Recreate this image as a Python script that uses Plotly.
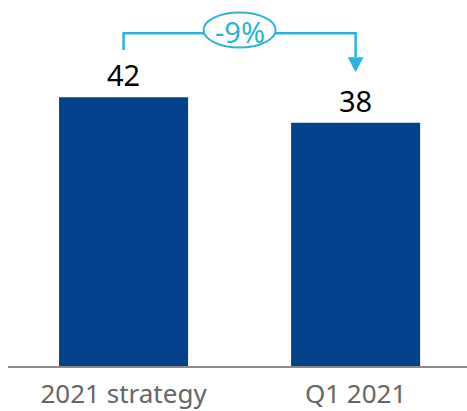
import plotly.graph_objects as go

categories = ["2021 strategy", "Q1 2021"]
values = [42, 38]
change_label = "-9%"

bar_color = "#03428A"
accent = "#2DB3D9"
font_family = "Noto Sans, Open Sans, sans-serif"

fig = go.Figure()
fig.add_trace(go.Bar(
    x=categories, y=values,
    marker=dict(color=bar_color, line=dict(width=0)),
    text=[str(v) for v in values],
    textposition="outside",
    textfont=dict(size=29, color="#000000", family=font_family),
    cliponaxis=False,
    width=0.556,
))

top_y = 52.0
left_end = values[0] + 7.4
tip_y = values[1] + 7.9
arrow_len = 2.35

shapes = [
    dict(type="path", xref="x", yref="y",
         path=f"M 0,{left_end} L 0,{top_y} L 1,{top_y} L 1,{tip_y + arrow_len}",
         line=dict(color=accent, width=2.5), layer="above"),
    dict(type="path", xref="x", yref="y",
         path=f"M 0.966,{tip_y + arrow_len} L 1.034,{tip_y + arrow_len} L 1,{tip_y} Z",
         fillcolor=accent, line=dict(color=accent, width=0), layer="above"),
    dict(type="circle", xref="x", yref="y", xsizemode="pixel", ysizemode="pixel",
         xanchor=0.5, yanchor=top_y + 0.5, x0=-36, x1=36, y0=-17.5, y1=17.5,
         fillcolor="white", line=dict(color=accent, width=2), layer="above"),
]

fig.update_layout(
    width=467, height=411,
    margin=dict(l=8, r=0, t=0, b=45),
    paper_bgcolor="white", plot_bgcolor="white",
    showlegend=False,
    bargap=0.444,
    shapes=shapes,
    annotations=[dict(x=0.5, y=top_y + 0.3, xref="x", yref="y", text=change_label,
                      showarrow=False, font=dict(size=29, color=accent, family=font_family))],
    xaxis=dict(range=[-0.498, 1.48], showline=True, linecolor="#8C8C8C", linewidth=1.5,
               ticks="", tickfont=dict(size=26, color="#666666", family=font_family),
               ticklabelstandoff=4,
               showgrid=False, zeroline=False),
    yaxis=dict(range=[0, 57.2], visible=False, showgrid=False, zeroline=False),
)

fig.write_html("out.html")
